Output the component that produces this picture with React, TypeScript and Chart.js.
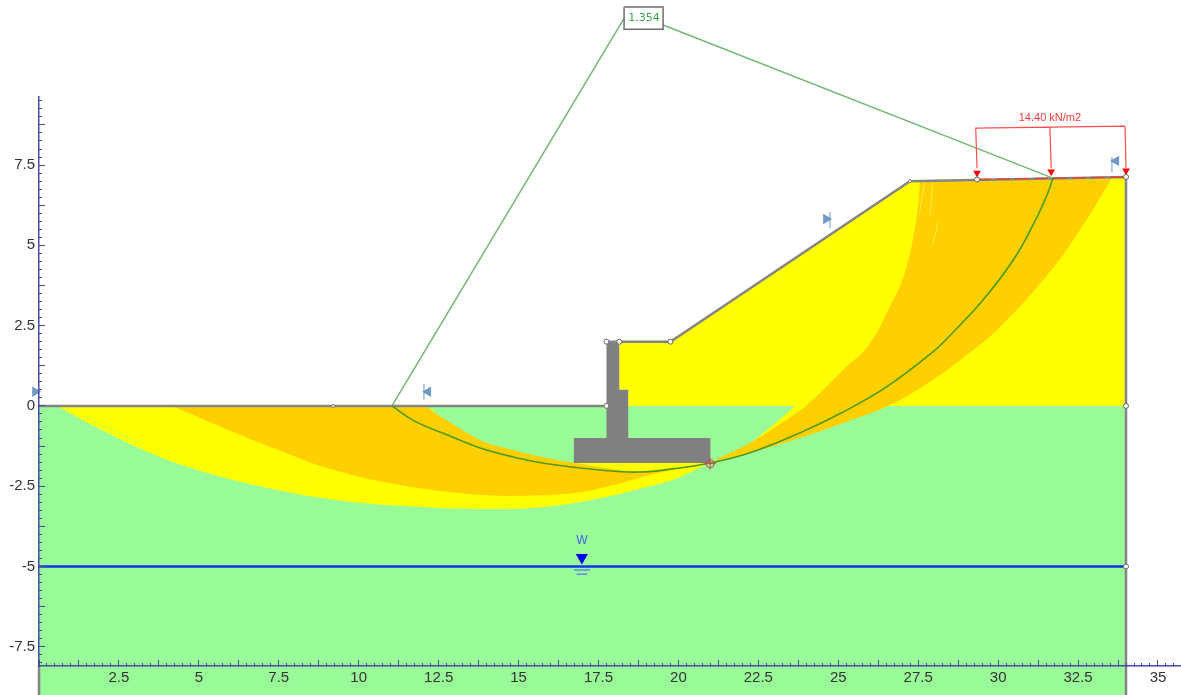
import React, { useEffect, useRef } from "react";
import { Chart, registerables, ScatterController } from "chart.js";

Chart.register(...registerables);
// Markers may overhang the plot: keep the plot area tied to the full page width.
(ScatterController.prototype as any).getMaxOverflow = () => 0;

type Row = [number, number] | null;

const xTickLabels = [2.5, 5, 7.5, 10, 12.5, 15, 17.5, 20, 22.5, 25, 27.5, 30, 32.5, 35];
const yTickLabels = [7.5, 5, 2.5, 0, -2.5, -5, -7.5];

const lowerSoil: Row[] = [[0, 0], [34, 0], [34, -8.1], [0, -8.1]];
const lowerSoilBelowAxis: Row[] = [[0, -8.55], [34, -8.55]];
const upperSoil: Row[] = [[18.15, 2], [19.75, 2], [27.24, 7], [34, 7.13], [34, 0], [18.43, 0], [18.43, 0.5], [18.15, 0.5]];

// A vertex written twice stays a sharp corner on the smoothed outlines.
const rightYellowStrip: Row[] = [[20.99, -1.77], [21.93, -1.37], [22.77, -0.75], [23.65, 0], [23.65, 0], [25.06, 0], [25.06, 0], [22.24, -1.37]];
const rightOrange: Row[] = [
  [27.56, 7.0], [33.56, 7.1], [33.56, 7.1], [32.66, 5.63], [31.62, 4.17], [30.06, 2.46], [29.03, 1.59], [27.96, 0.81],
  [26.62, 0.03], [25.15, -0.53], [23.8, -1.0], [22.24, -1.46], [20.99, -1.77], [20.99, -1.77], [22.24, -1.15],
  [23.27, -0.5], [24.02, 0.03], [25.15, 1.12], [25.93, 1.87], [26.62, 3.11], [27.09, 4.17], [27.46, 5.94], [27.56, 7.0],
];
const rightStreaks: Row[] = [
  [27.7, 6.97], [27.53, 5.94], null, [27.96, 6.97], [27.87, 5.94], null, [28.12, 5.73], [27.96, 5.01],
];
const leftYellow: Row[] = [
  [0.56, 0], [1.91, -0.72], [3.47, -1.46], [5.04, -2.02], [7.13, -2.55], [9.2, -2.92], [11.29, -3.11], [13.8, -3.21],
  [15.89, -3.14], [17.77, -2.83], [18.8, -2.58], [19.83, -2.3], [20.99, -1.77], [20.99, -1.77], [16.73, -1.77], [16.73, -1.77],
  [15.89, -1.72], [14.83, -1.52], [13.8, -1.22], [12.76, -0.62], [12.3, -0.1],
];
const leftStreak: Row[] = [[1.41, -0.34], [3.16, -1.15]];
const leftOrange: Row[] = [
  [4.16, 0], [6.07, -0.81], [7.32, -1.31], [9.2, -1.99], [11.29, -2.46], [13.8, -2.77], [15.36, -2.79],
  [16.7, -2.72], [17.77, -2.52], [18.8, -2.24], [19.83, -1.99], [20.99, -1.77], [20.99, -1.77], [19.83, -1.96], [18.8, -2.05],
  [17.77, -1.93], [16.92, -1.8], [15.89, -1.62], [14.83, -1.37], [13.8, -1.06], [12.76, -0.45], [12.07, 0],
];
const wall: Row[] = [
  [17.75, 2], [18.15, 2], [18.15, 0.5], [18.43, 0.5], [18.43, -1], [21, -1], [21, -1.78], [16.73, -1.78], [16.73, -1], [17.75, -1],
];
const slipCurve: Row[] = [
  [11.04, 0], [11.7, -0.45], [12.76, -0.9], [13.8, -1.31], [14.83, -1.59], [15.89, -1.8], [17.77, -2.02],
  [18.8, -2.06], [19.83, -1.96], [20.99, -1.78], [22.24, -1.46], [23.8, -0.84], [25.15, -0.19], [26.51, 0.59],
  [27.96, 1.68], [28.57, 2.27], [29.58, 3.36], [30.51, 4.6], [31.14, 5.73], [31.53, 6.57], [31.72, 7.1],
];
const boundary: Row[] = [
  [0, 0], [17.75, 0], null, [17.75, 2], [18.15, 2], [19.75, 2], [27.24, 7], [34, 7.13], [34, -9], null, [0, -8.1], [0, -9],
];
const waterTable: Row[] = [[0, -5], [34, -5]];
const waterMarks: Row[] = [[16.73, -5.11], [17.24, -5.11], null, [16.82, -5.24], [17.14, -5.24]];
const waterTriangle: Row[] = [[16.98, -4.72]];
const leaderLines: Row[] = [[11.04, 0], [18.3, 12.07], null, [19.52, 11.86], [31.69, 7.1]];
const fosBox: Row[] = [[18.3, 12.42], [19.52, 12.42], [19.52, 11.73], [18.3, 11.73], [18.3, 12.42]];
const loadBracket: Row[] = [
  [29.28, 8.65], [33.97, 8.71], null, [29.3, 8.65], [29.34, 7.4], null, [31.62, 8.68], [31.66, 7.4], null, [33.97, 8.71], [34, 7.4],
];
const loadSurface: Row[] = [[29.34, 7.05], [34, 7.13]];
const loadArrows: Row[] = [[29.34, 7.25], [31.66, 7.29], [34, 7.32]];
const limitBars: Row[] = [[12.04, 0.68], [12.04, 0.19], null, [24.74, 6.04], [24.74, 5.54], null, [33.56, 7.75], [33.56, 7.28]];
const limitRight: Row[] = [[-0.12, 0.44], [24.62, 5.82]];
const limitLeft: Row[] = [[12.17, 0.44], [33.69, 7.63]];
const nodes: Row[] = [[17.75, 2], [18.15, 2], [19.75, 2], [17.75, 0], [34, 7.13], [34, 0], [34, -5], [29.34, 7.05]];
const smallNodes: Row[] = [[9.2, 0], [27.24, 7]];
const slipCentre: Row[] = [[20.99, -1.8]];

const notes = [
  { text: "1.354", x: 18.92, y: 12.07, color: "#3aa84a", font: "11px 'DejaVu Sans'" },
  { text: "14.40 kN/m2", x: 31.62, y: 8.97, color: "#f03a3a", font: "11px 'Liberation Sans'" },
  { text: "W", x: 16.98, y: -4.2, color: "#3f63e0", font: "12px 'Liberation Sans'" },
];

const pts = (rows: Row[]) => rows.map((r) => (r ? { x: r[0], y: r[1] } : { x: NaN, y: NaN }));

const area = (label: string, rows: Row[], color: string, tension = 0) => ({
  label,
  data: pts(rows),
  showLine: true,
  fill: "shape",
  tension,
  backgroundColor: color,
  borderWidth: 0,
  pointRadius: 0,
  clip: false,
});
const line = (label: string, rows: Row[], color: string, width: number, extra: object = {}) => ({
  label,
  data: pts(rows),
  showLine: true,
  fill: false,
  borderColor: color,
  borderWidth: width,
  pointRadius: 0,
  clip: false,
  ...extra,
});
const marks = (label: string, rows: Row[], style: string, color: string, radius: number, rotation = 0, extra: object = {}) => ({
  label,
  data: pts(rows),
  showLine: false,
  pointStyle: style,
  pointRadius: radius,
  pointRotation: rotation,
  pointBackgroundColor: color,
  pointBorderColor: color,
  pointBorderWidth: 0,
  clip: false,
  ...extra,
});

const notesPlugin = {
  id: "notes",
  afterDraw(chart: any) {
    const { ctx, scales } = chart;
    ctx.save();
    ctx.textAlign = "center";
    ctx.textBaseline = "middle";
    for (const n of notes) {
      ctx.font = n.font;
      ctx.fillStyle = n.color;
      ctx.fillText(n.text, scales.x.getPixelForValue(n.x), scales.y.getPixelForValue(n.y));
    }
    ctx.restore();
  },
};

const AXIS = "#4a4aa6";
const near = (v: number, list: number[]) => list.some((t) => Math.abs(t - v) < 1e-6);
const tickFont = { family: "'Liberation Sans'", size: 15 };
const noPad = (s: any) => {
  s.paddingLeft = 0;
  s.paddingRight = 0;
  s.paddingTop = 0;
  s.paddingBottom = 0;
};

export default function App() {
  const ref = useRef<HTMLCanvasElement>(null);
  useEffect(() => {
    const datasets = [
      area("Lower soil", lowerSoil, "#98fb98"),
      line("Lower soil below axis", lowerSoilBelowAxis, "#98fb98", 30),
      area("Upper soil", upperSoil, "#ffff00"),
      area("Left band outer", leftYellow, "#ffff00", 0.4),
      line("Left streak", leftStreak, "#c8fb50", 1),
      area("Right band outer", rightYellowStrip, "#ffff00", 0.4),
      area("Left band inner", leftOrange, "#ffd000", 0.4),
      area("Right band inner", rightOrange, "#ffd000", 0.4),
      line("Right streaks", rightStreaks, "#ffe840", 1),
      area("Retaining wall", wall, "#808080"),
      line("Boundary", boundary, "#858585", 2.5),
      line("Load surface", loadSurface, "#e0483c", 1.5, { borderDash: [14, 5] }),
      line("Water table", waterTable, "#1233e6", 2.5),
      line("Water marks", waterMarks, "#5f8fe6", 1.5),
      marks("Water marker", waterTriangle, "triangle", "#0000ff", 7, 180),
      line("Leaders", leaderLines, "#74b874", 1.5),
      line("FoS box", fosBox, "#6e6e6e", 1.5),
      line("Slip surface", slipCurve, "#4f9a1e", 1.6, { tension: 0.4 }),
      line("Load bracket", loadBracket, "#ff4d4d", 1.2),
      marks("Load arrows", loadArrows, "triangle", "#ff0000", 4.5, 180),
      line("Limit bars", limitBars, "#9db9da", 1.5),
      marks("Limit right", limitRight, "triangle", "#6f9ac6", 6, 90),
      marks("Limit left", limitLeft, "triangle", "#6f9ac6", 6, 270),
      marks("Nodes", nodes, "circle", "#ffffff", 2.5, 0, { pointBorderColor: "#666666", pointBorderWidth: 1 }),
      marks("Small nodes", smallNodes, "circle", "#ffffff", 1.5, 0, { pointBorderColor: "#777777", pointBorderWidth: 1 }),
      marks("Slip centre ring", slipCentre, "circle", "rgba(0,0,0,0)", 4, 0, { pointBorderColor: "#c84a5c", pointBorderWidth: 1 }),
      marks("Slip centre cross", slipCentre, "cross", "#c84a5c", 6, 0, { pointBorderWidth: 1 }),
    ].map((d, i, all) => ({ ...d, order: all.length - i }));

    const chart = new Chart(ref.current as HTMLCanvasElement, {
      type: "scatter",
      data: { datasets } as any,
      plugins: [notesPlugin],
      options: {
        animation: false,
        responsive: false,
        layout: { padding: { top: 97, left: 0, right: 0, bottom: 0 } },
        plugins: { legend: { display: false }, tooltip: { enabled: false } },
        scales: {
          x: {
            type: "linear",
            position: "bottom",
            min: 0,
            max: 35.72,
            border: { display: true, color: AXIS, width: 1.5, z: 1 },
            grid: { drawOnChartArea: false, drawTicks: true, tickLength: -3, tickColor: AXIS, tickWidth: 1, z: 1 },
            ticks: {
              stepSize: 0.25,
              includeBounds: false,
              autoSkip: false,
              maxRotation: 0,
              padding: 6,
              z: 1,
              color: "#333333",
              font: tickFont,
              callback: (v: any) => (near(Number(v), xTickLabels) ? String(Number(v)) : ""),
            },
            afterFit: (s: any) => { s.height = 29; noPad(s); },
          },
          x2: {
            type: "linear",
            axis: "x",
            position: { y: -8.1 },
            min: 0,
            max: 35.72,
            border: { display: false },
            grid: { drawOnChartArea: false, drawTicks: true, tickLength: -6, tickColor: AXIS, tickWidth: 1, z: 1 },
            ticks: { stepSize: 1.25, includeBounds: false, display: false },
            afterFit: (s: any) => { s.height = 0; noPad(s); },
          },
          y: {
            type: "linear",
            position: "left",
            min: -8.1,
            max: 9.62,
            border: { display: true, color: AXIS, width: 1.5, z: 1 },
            grid: { drawOnChartArea: false, drawTicks: true, tickLength: -3, tickColor: AXIS, tickWidth: 1, z: 1 },
            ticks: {
              stepSize: 0.25,
              includeBounds: false,
              autoSkip: false,
              padding: 7,
              z: 1,
              color: "#333333",
              font: tickFont,
              callback: (v: any) => (near(Number(v), yTickLabels) ? String(Number(v)) : ""),
            },
            afterFit: (s: any) => { s.width = 39; noPad(s); },
          },
          y2: {
            type: "linear",
            axis: "y",
            position: { x: 0 },
            min: -8.1,
            max: 9.62,
            border: { display: false },
            grid: { drawOnChartArea: false, drawTicks: true, tickLength: -6, tickColor: AXIS, tickWidth: 1, z: 1 },
            ticks: { stepSize: 1.25, includeBounds: false, display: false },
            afterFit: (s: any) => { s.width = 0; noPad(s); },
          },
        },
      } as any,
    });
    return () => chart.destroy();
  }, []);

  return (
    <canvas
      ref={ref}
      width={1181}
      height={695}
      style={{ position: "fixed", left: 0, top: 0, width: 1181, height: 695, display: "block", filter: "blur(0.4px)" }}
    />
  );
}
